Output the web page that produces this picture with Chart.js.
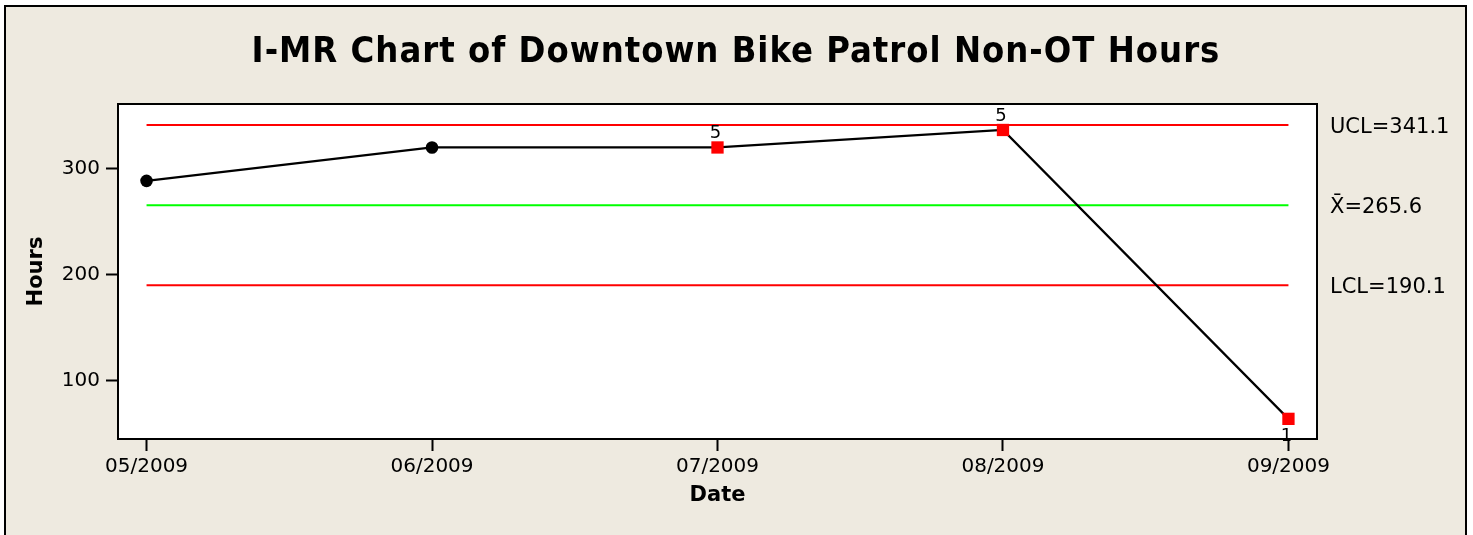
<!DOCTYPE html>
<html>
<head>
<meta charset="utf-8">
<script src="https://cdn.jsdelivr.net/npm/chart.js@4.4.0/dist/chart.umd.min.js"></script>
<style>
  html, body { margin: 0; padding: 0; background: #ffffff; }
  canvas { display: block; }
</style>
</head>
<body>
<canvas id="chart" width="1473" height="535"></canvas>
<script>
// data
const months = ['05/2009', '06/2009', '07/2009', '08/2009', '09/2009'];
const hours = [288.5, 320, 320, 336.5, 64];
const pointNotes = ['', '', '5', '5', '1'];   // test failure labels
const failed = [false, false, true, true, true];
const ucl = 341.1;
const mean = 265.6;
const lcl = 190.1;
const yTicks = [100, 200, 300];

const font = '"DejaVu Sans", Verdana, sans-serif';
const titleFont = '"DejaVu Sans Condensed", "DejaVu Sans", sans-serif';

const points = hours.map(function(v, i) { return { x: i, y: v }; });
const lastX = months.length - 1;

function limitLine(value, color) {
    return {
        data: [{ x: 0, y: value }, { x: lastX, y: value }],
        borderColor: color,
        borderWidth: 2,
        pointRadius: 0,
        fill: false,
        order: 2
    };
}

// beige frame, plot box, title, limit labels and point notes
const decorations = {
    id: 'decorations',
    beforeDraw: function(chart) {
        const ctx = chart.ctx;
        ctx.save();
        ctx.fillStyle = '#ffffff';
        ctx.fillRect(0, 0, chart.width, chart.height);
        ctx.fillStyle = '#eeeae0';
        ctx.fillRect(5, 6, 1461, 540);
        ctx.strokeStyle = '#000000';
        ctx.lineWidth = 2;
        ctx.strokeRect(5, 6, 1461, 540);
        const a = chart.chartArea;
        ctx.fillStyle = '#ffffff';
        ctx.fillRect(a.left, a.top, a.right - a.left, a.bottom - a.top);
        ctx.restore();
    },
    afterDraw: function(chart) {
        const ctx = chart.ctx;
        const a = chart.chartArea;
        const xs = chart.scales.x;
        const ys = chart.scales.y;
        ctx.save();
        ctx.strokeStyle = '#000000';
        ctx.lineWidth = 2;
        ctx.strokeRect(a.left, a.top, a.right - a.left, a.bottom - a.top);

        ctx.fillStyle = '#000000';
        ctx.textAlign = 'center';
        ctx.textBaseline = 'middle';
        ctx.font = 'bold 36px ' + titleFont;
        ctx.letterSpacing = '1px';
        ctx.fillText('I-MR Chart of Downtown Bike Patrol Non-OT Hours', 736, 53);
        ctx.letterSpacing = '0px';

        ctx.textAlign = 'left';
        ctx.font = '21px ' + font;
        const limits = [['UCL=' + ucl.toFixed(1), ucl], ['X\u0304=' + mean.toFixed(1), mean], ['LCL=' + lcl.toFixed(1), lcl]];
        limits.forEach(function(l) {
            ctx.fillText(l[0], 1330, ys.getPixelForValue(l[1]) + 2);
        });

        ctx.textAlign = 'center';
        ctx.font = '18px ' + font;
        pointNotes.forEach(function(note, i) {
            if (!note) return;
            const px = xs.getPixelForValue(i);
            const py = ys.getPixelForValue(hours[i]);
            const below = i === lastX;
            ctx.fillText(note, px - 2, below ? py + 17 : py - 14);
        });
        ctx.restore();
    }
};

new Chart(document.getElementById('chart'), {
    type: 'line',
    data: {
        datasets: [
            {
                data: points,
                borderColor: '#000000',
                borderWidth: 2.2,
                pointStyle: failed.map(function(f) { return f ? 'rect' : 'circle'; }),
                pointRadius: failed.map(function(f) { return f ? 8.7 : 6.3; }),
                pointBackgroundColor: failed.map(function(f) { return f ? '#ff0000' : '#000000'; }),
                pointBorderWidth: 0,
                fill: false,
                order: 1
            },
            limitLine(ucl, '#ff0000'),
            limitLine(mean, '#00ff00'),
            limitLine(lcl, '#ff0000')
        ]
    },
    options: {
        responsive: false,
        animation: false,
        events: [],
        layout: { padding: { left: 0, top: 104, right: 156, bottom: 0 } },
        plugins: {
            legend: { display: false },
            tooltip: { enabled: false }
        },
        scales: {
            x: {
                type: 'linear',
                min: -0.1,
                max: 4.1,
                afterFit: function(s) { s.height = 96; },
                afterBuildTicks: function(s) { s.ticks = months.map(function(m, i) { return { value: i }; }); },
                ticks: {
                    color: '#000000',
                    font: { family: font, size: 20 },
                    padding: 4,
                    maxRotation: 0,
                    autoSkip: false,
                    callback: function(v) { return months[v]; }
                },
                grid: { drawOnChartArea: false, drawTicks: true, tickLength: 12, tickWidth: 2, tickColor: '#000000' },
                border: { display: true, color: '#000000', width: 2 },
                title: {
                    display: true,
                    text: 'Date',
                    color: '#000000',
                    font: { family: font, size: 21, weight: 'bold' },
                    padding: { top: 0, bottom: 27 }
                }
            },
            y: {
                min: 45,
                max: 361,
                afterFit: function(s) { s.width = 118; },
                afterBuildTicks: function(s) { s.ticks = yTicks.map(function(v) { return { value: v }; }); },
                ticks: {
                    color: '#000000',
                    font: { family: font, size: 20 },
                    padding: 6
                },
                grid: { drawOnChartArea: false, drawTicks: true, tickLength: 12, tickWidth: 2, tickColor: '#000000' },
                border: { display: true, color: '#000000', width: 2 },
                title: {
                    display: true,
                    text: 'Hours',
                    color: '#000000',
                    font: { family: font, size: 21, weight: 'bold' },
                    padding: { top: 24, bottom: 0 }
                }
            }
        }
    },
    plugins: [decorations]
});
</script>
</body>
</html>
